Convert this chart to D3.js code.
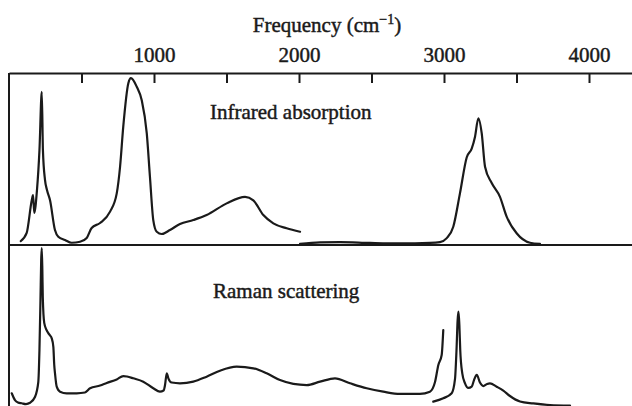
<!DOCTYPE html>
<html>
<head>
<meta charset="utf-8">
<script src="https://cdn.jsdelivr.net/npm/d3@7"></script>
<style>
  html, body { margin: 0; padding: 0; background: #fff; }
  svg { display: block; }
  text { font-family: "Liberation Serif", "Times New Roman", serif; fill: #1a1a1a; stroke: #1a1a1a; stroke-width: 0.45px; }
</style>
</head>
<body>
<svg id="chart" width="632" height="406"></svg>
<script>
// Frequency axis (cm^-1)
const tickValues = [500, 1000, 1500, 2000, 2500, 3000, 3500, 4000];
const tickLabels = ["", "1000", "", "2000", "", "3000", "", "4000"];

// Infrared absorption, low-frequency band (frequency, relative intensity)
const irLowFreq = [81, 122, 157, 166, 174, 193, 210, 226, 234, 248, 262, 283, 317, 340, 386, 432, 490, 536, 570, 628, 697, 743, 766, 788, 823, 841, 881, 915, 950, 972, 995, 1019, 1053, 1110, 1179, 1271, 1363, 1501, 1628, 1685, 1754, 1823, 1915, 2007];
const irLowVal  = [2.3, 7, 26, 29, 18.6, 32, 55, 89, 55, 38, 32, 26, 8.7, 4.8, 2.9, 1.3, 1.9, 4.1, 9.9, 12.8, 19.4, 30, 45.5, 68.8, 94, 97, 92, 84.3, 65, 39.7, 14.5, 7.7, 6.4, 8.7, 12.2, 14.5, 17.4, 24.2, 28, 26, 17.4, 12.6, 9.7, 7.7];

// Infrared absorption, stretching band
const irHighFreq = [2007, 2145, 2283, 2490, 2697, 2903, 2972, 3019, 3064, 3110, 3157, 3191, 3214, 3237, 3260, 3283, 3329, 3386, 3432, 3501, 3593, 3662];
const irHighVal  = [0.6, 1.5, 1.7, 1.2, 0.9, 1.2, 1.7, 4, 10.6, 30, 51, 56, 63, 73.7, 65, 45.5, 36, 28, 16.5, 6.8, 1.3, 0.6];

// Raman scattering, low-frequency trace
const ramanLowFreq = [19, 41, 62, 88, 117, 145, 179, 202, 210, 217, 222, 226, 230, 233, 243, 259, 271, 286, 294, 306, 312, 317, 329, 352, 398, 467, 524, 559, 628, 674, 743, 788, 814, 857, 926, 995, 1041, 1066, 1076, 1088, 1099, 1122, 1179, 1271, 1363, 1455, 1570, 1685, 1777, 1869, 1961, 2053, 2145, 2248, 2352, 2467, 2581, 2697, 2834, 2903, 2938, 2961, 2984, 2995];
const ramanLowVal  = [7.9, 3.7, 2.2, 1.7, 1.2, 2.0, 5.6, 14.9, 34.8, 65.8, 90.7, 98, 84.5, 67.7, 51.6, 47.2, 45.3, 43.5, 42.2, 36.6, 25.5, 20.5, 12, 8.9, 7.9, 7.9, 8.4, 11, 12.7, 14.3, 16.5, 18.6, 18.3, 17.2, 15.1, 11, 8.9, 9.6, 13, 20.3, 17.2, 14.6, 14.1, 15.1, 18.2, 21.9, 24.4, 23.4, 20.3, 16.1, 13.7, 13, 15.1, 17.2, 14.1, 11, 8.9, 7.5, 7.5, 8.9, 14.9, 25.5, 31.7, 47.2];

// Raman scattering, stretching-region trace
const ramanHighFreq = [2926, 2995, 3053, 3076, 3086, 3094, 3100, 3106, 3112, 3126, 3145, 3168, 3191, 3207, 3226, 3248, 3271, 3297, 3317, 3363, 3409, 3455, 3524, 3616, 3731, 3869];
const ramanHighVal  = [2.7, 4.8, 7.9, 16.8, 34.2, 53.4, 58.6, 50.3, 34.8, 20.3, 14.1, 11.2, 12, 16.1, 19.3, 14.6, 12.4, 13.7, 14.1, 12, 9.6, 6.2, 2.8, 1.6, 0.6, 0.3];

const svg = d3.select("#chart");
const ink = "#1a1a1a";

const x = d3.scaleLinear().domain([0, 4300]).range([9, 632.5]);
const yIR = d3.scaleLinear().domain([0, 100]).range([245, 73]);
const yRaman = d3.scaleLinear().domain([0, 100]).range([406, 245]);

// Frame: left edge and divider between the two panels
svg.append("line")
  .attr("x1", x(0)).attr("x2", x(0))
  .attr("y1", yIR(100)).attr("y2", 406)
  .attr("stroke", ink).attr("stroke-width", 2);
svg.append("line")
  .attr("x1", x(0)).attr("x2", 632)
  .attr("y1", yIR(0)).attr("y2", yIR(0))
  .attr("stroke", ink).attr("stroke-width", 2);

// Top frequency axis with inward ticks
const axis = d3.axisTop(x)
  .tickValues(tickValues)
  .tickFormat((d, i) => tickLabels[i])
  .tickSizeInner(-10)
  .tickSizeOuter(0)
  .tickPadding(11);

const gAxis = svg.append("g")
  .attr("transform", `translate(0,${yIR(100)})`)
  .call(axis);
gAxis.select(".domain").attr("stroke", ink).attr("stroke-width", 2);
gAxis.selectAll(".tick line").attr("stroke", ink).attr("stroke-width", 2);
gAxis.selectAll(".tick text")
  .attr("fill", ink)
  .style("font-family", '"Liberation Serif", "Times New Roman", serif')
  .style("font-size", "21px");

// Axis title
const title = svg.append("text")
  .attr("x", 327).attr("y", 32)
  .attr("text-anchor", "middle")
  .style("font-size", "21px");
title.append("tspan").text("Frequency (cm");
title.append("tspan").attr("dy", -8).style("font-size", "14px").text("\u22121");
title.append("tspan").attr("dy", 8).text(")");

// Spectra
function drawTrace(freq, vals, yScale) {
  const pts = freq.map((f, i) => [f, vals[i]]);
  const line = d3.line()
    .x(d => x(d[0]))
    .y(d => yScale(d[1]))
    .curve(d3.curveMonotoneX);
  svg.append("path")
    .datum(pts)
    .attr("d", line)
    .attr("fill", "none")
    .attr("stroke", ink)
    .attr("stroke-width", 2.2)
    .attr("stroke-linejoin", "round")
    .attr("stroke-linecap", "round");
}

drawTrace(irLowFreq, irLowVal, yIR);
drawTrace(irHighFreq, irHighVal, yIR);
drawTrace(ramanLowFreq, ramanLowVal, yRaman);
drawTrace(ramanHighFreq, ramanHighVal, yRaman);

// Panel labels
svg.append("text")
  .attr("x", 210).attr("y", 119)
  .style("font-size", "21px")
  .text("Infrared absorption");
svg.append("text")
  .attr("x", 213).attr("y", 298)
  .style("font-size", "21px")
  .text("Raman scattering");
</script>
</body>
</html>
